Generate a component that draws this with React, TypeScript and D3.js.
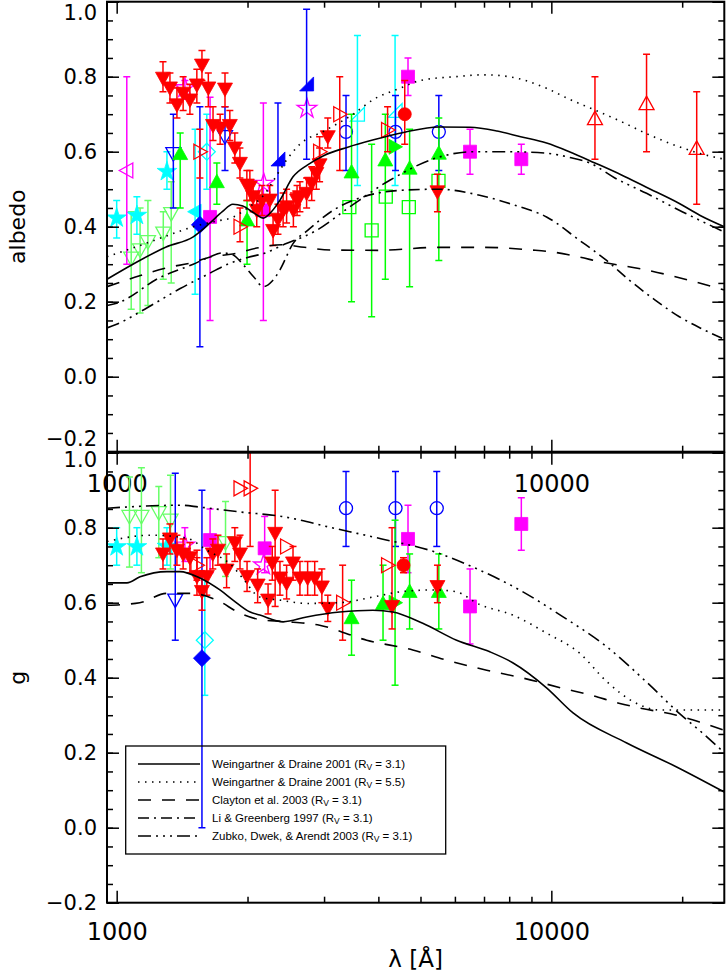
import React, { useRef, useEffect } from 'react';
import * as d3 from 'd3';

type Pt = [number, number, number?, number?]; // lambda [A], value, lower, upper

// ---- model curves, albedo panel ----
const albedoWD31: [number, number][] = [[950,0.26],[1090,0.30],[1300,0.346],[1500,0.373],[1640,0.41],[1750,0.44],[1850,0.46],[1950,0.455],[2080,0.435],[2175,0.423],[2270,0.44],[2375,0.471],[2545,0.533],[2750,0.565],[3000,0.59],[3400,0.612],[3880,0.631],[4600,0.652],[5500,0.666],[6500,0.665],[7500,0.655],[8500,0.64],[9750,0.623],[11000,0.60],[12600,0.57],[14500,0.538],[16500,0.506],[19700,0.462],[22000,0.43],[25000,0.40]];
const albedoWD55: [number, number][] = [[950,0.32],[1100,0.345],[1300,0.375],[1500,0.40],[1700,0.415],[1850,0.425],[2000,0.45],[2200,0.49],[2300,0.525],[2450,0.575],[2640,0.62],[3000,0.655],[3500,0.70],[3880,0.738],[4500,0.77],[5000,0.79],[6000,0.80],[7000,0.805],[8000,0.80],[9750,0.769],[11000,0.74],[12600,0.711],[14500,0.68],[16500,0.649],[19700,0.613],[22000,0.595],[25000,0.58]];
const albedoCCC03: [number, number][] = [[950,0.24],[1100,0.265],[1300,0.29],[1500,0.305],[1650,0.32],[1850,0.327],[2100,0.343],[2400,0.352],[2700,0.345],[3100,0.338],[4000,0.337],[5500,0.345],[7000,0.345],[9000,0.338],[10000,0.333],[11500,0.32],[13000,0.306],[16500,0.285],[20000,0.262],[25000,0.231]];
const albedoLG97: [number, number][] = [[950,0.19],[1000,0.196],[1260,0.265],[1500,0.30],[1640,0.32],[1750,0.33],[1850,0.325],[1950,0.30],[2070,0.265],[2175,0.24],[2280,0.255],[2375,0.285],[2545,0.355],[2750,0.39],[3150,0.444],[3700,0.48],[4500,0.497],[5500,0.50],[6840,0.484],[8200,0.458],[9750,0.426],[11600,0.364],[13400,0.31],[15100,0.258],[17300,0.205],[19700,0.16],[22000,0.13],[25000,0.10]];
const albedoZDA03: [number, number][] = [[950,0.13],[1000,0.14],[1200,0.19],[1400,0.235],[1600,0.27],[1800,0.30],[2000,0.318],[2200,0.33],[2400,0.35],[2880,0.39],[3430,0.452],[4250,0.524],[5530,0.586],[6600,0.60],[8000,0.60],[9750,0.596],[11000,0.585],[12260,0.57],[14000,0.53],[16560,0.489],[20000,0.44],[25000,0.386]];

// ---- model curves, g panel ----
const gWD31: [number, number][] = [[950,0.653],[1056,0.653],[1132,0.669],[1305,0.683],[1398,0.683],[1554,0.666],[1728,0.634],[1852,0.607],[2028,0.575],[2135,0.567],[2415,0.549],[2736,0.562],[3260,0.575],[3885,0.58],[4320,0.575],[5060,0.545],[6055,0.50],[7220,0.469],[8150,0.44],[9750,0.373],[11220,0.306],[14910,0.226],[19420,0.162],[25000,0.095]];
const gWD55: [number, number][] = [[950,0.763],[1193,0.78],[1450,0.772],[1612,0.74],[1852,0.696],[1950,0.665],[2135,0.615],[2370,0.607],[2736,0.598],[3260,0.60],[3885,0.615],[4560,0.63],[5380,0.634],[6000,0.63],[6840,0.595],[8150,0.567],[9750,0.519],[11600,0.466],[13400,0.39],[15500,0.335],[17700,0.314],[25000,0.314]];
const gCCC03: [number, number][] = [[950,0.593],[1130,0.60],[1305,0.625],[1480,0.625],[1700,0.607],[1922,0.572],[2135,0.555],[2415,0.55],[2930,0.54],[3760,0.50],[4800,0.474],[5740,0.447],[7100,0.42],[8610,0.399],[10600,0.372],[12300,0.354],[14300,0.332],[16000,0.319],[19400,0.30],[22300,0.279],[25000,0.26]];
const gZDA03: [number, number][] = [[950,0.852],[1130,0.857],[1400,0.86],[1550,0.855],[1920,0.842],[2400,0.83],[3125,0.80],[4075,0.77],[5310,0.738],[6840,0.687],[8450,0.634],[10620,0.563],[13400,0.483],[16500,0.39],[19700,0.305],[22300,0.252],[25000,0.20]];

// ---- observations, albedo ----
const aGreenTriDownOpen: Pt[] = [[1080,0.316,0.18,0.44],[1132,0.338,0.17,0.45],[1180,0.36,0.19,0.47],[1280,0.383,0.26,0.44],[1335,0.435,0.25,0.52]];
const aCyanStar: Pt[] = [[1000,0.423,0.37,0.47],[1113,0.43,0.38,0.48],[1305,0.547,0.50,0.60]];
const aCyanLeft: Pt[] = [[1515,0.44,0.22,0.66]];
const aCyanDiamondOpen: Pt[] = [[1612,0.60,0.50,0.70]];
const aCyanCornerOpen: Pt[] = [[3580,0.70,0.51,0.91],[4370,0.71,0.51,0.91]];
const aMagentaLeftOpen: Pt[] = [[1055,0.55,0.30,0.80]];
const aMagentaStarOpen: Pt[] = [[1435,0.77,0.74,0.79],[2180,0.515],[2740,0.715]];
const aMagentaSquare: Pt[] = [[1640,0.426,0.15,0.745],[2175,0.444,0.15,0.73],[4680,0.80,0.75,0.85],[6500,0.60,0.54,0.66],[8530,0.58,0.54,0.62]];
const aBlueTriDownOpen: Pt[] = [[1350,0.595,0.45,0.70],[1775,0.64,0.55,0.72]];
const aBlueDiamond: Pt[] = [[1554,0.405,0.08,0.72]];
const aBlueWedge: Pt[] = [[2350,0.578,0.43,0.73],[2735,0.778,0.58,0.98]];
const aBlueCircleOpen: Pt[] = [[3370,0.653,0.55,0.75],[4380,0.653,0.55,0.75],[5510,0.653,0.55,0.75]];
const aGreenSquareOpen: Pt[] = [[3430,0.452],[3860,0.39,0.16,0.62],[4160,0.48],[4700,0.452],[5500,0.522]];
const aGreenTriUp: Pt[] = [[1400,0.595,0.45,0.65],[1700,0.52,0.46,0.57],[1995,0.418,0.30,0.47],[3470,0.546,0.20,0.70],[4150,0.578,0.26,0.70],[4720,0.556,0.24,0.66],[5510,0.596,0.31,0.69]];
const aGreenTriRight: Pt[] = [[4370,0.613]];
const aRedTriRightOpen: Pt[] = [[1554,0.60,0.53,0.66],[1922,0.40,0.36,0.45],[2930,0.60,0.56,0.64],[3260,0.70,0.55,0.80],[4200,0.658,0.60,0.72]];
const aRedTriDown: Pt[] = [
  [1278,0.796,0.76,0.84],[1326,0.77,0.73,0.81],[1376,0.725,0.69,0.77],[1422,0.756,0.71,0.80],
  [1474,0.738,0.70,0.78],[1529,0.778,0.73,0.82],[1571,0.831,0.79,0.87],[1625,0.77,0.72,0.81],
  [1666,0.67,0.63,0.72],[1730,0.663,0.62,0.70],[1775,0.767,0.72,0.81],[1821,0.67,0.63,0.71],
  [1870,0.61,0.57,0.65],[1921,0.569,0.53,0.61],[1993,0.511,0.47,0.55],[2025,0.506,0.47,0.55],
  [2060,0.48,0.44,0.52],[2100,0.444,0.40,0.49],[2160,0.47,0.43,0.51],[2250,0.471,0.43,0.51],
  [2290,0.39,0.35,0.43],[2350,0.42,0.38,0.46],[2415,0.444,0.40,0.49],[2460,0.453,0.41,0.50],
  [2550,0.444,0.40,0.49],[2600,0.471,0.43,0.51],[2640,0.48,0.44,0.52],[2735,0.489,0.45,0.53],
  [2810,0.516,0.47,0.56],[2880,0.542,0.50,0.58],[2930,0.565,0.52,0.61],[3060,0.64,0.61,0.69],
  [5470,0.493,0.44,0.54]
];
const aRedCircle: Pt[] = [[4600,0.70,0.62,0.79]];
const aRedTriUpOpen: Pt[] = [[12600,0.688,0.58,0.80],[16560,0.728,0.60,0.86],[21600,0.609,0.46,0.76]];

// ---- observations, g ----
const gGreenTriDownOpen: Pt[] = [[1070,0.83,0.695,0.935],[1140,0.83,0.68,0.96],[1250,0.84,0.72,0.91],[1330,0.82,0.69,0.94],[1780,0.76,0.67,0.87]];
const gCyanStar: Pt[] = [[1000,0.749,0.70,0.80],[1113,0.749,0.70,0.80],[1305,0.75,0.70,0.80]];
const gCyanDiamondOpen: Pt[] = [[1595,0.50,0.353,0.66]];
const gMagentaStarOpen: Pt[] = [[1435,0.753,0.71,0.80],[2175,0.70]];
const gMagentaSquare: Pt[] = [[1640,0.767,0.68,0.85],[2190,0.745,0.68,0.83],[4680,0.77,0.68,0.86],[6500,0.59,0.49,0.69],[8530,0.81,0.74,0.88]];
const gBlueTriDownOpen: Pt[] = [[1364,0.607,0.50,0.945]];
const gBlueDiamond: Pt[] = [[1571,0.452,0.0,0.90]];
const gBlueCircleOpen: Pt[] = [[3370,0.852,0.75,0.95],[4380,0.852,0.75,0.95],[5450,0.852,0.75,0.95]];
const gGreenTriUp: Pt[] = [[3470,0.56,0.46,0.66],[4100,0.598,0.50,0.70],[4720,0.63,0.53,0.73],[5510,0.63,0.53,0.73]];
const gGreenTriRight: Pt[] = [[4370,0.60,0.38,0.82]];
const gRedTriRightOpen: Pt[] = [[1530,0.70,0.66,0.74],[1922,0.905],[2028,0.905,0.75,1.1],[2460,0.75],[3310,0.60,0.50,0.70],[4200,0.70]];
const gRedTriDown: Pt[] = [
  [1278,0.73,0.69,0.77],[1326,0.77,0.73,0.81],[1376,0.74,0.70,0.78],[1422,0.73,0.69,0.77],
  [1474,0.72,0.68,0.76],[1530,0.67,0.62,0.72],[1571,0.63,0.58,0.67],[1612,0.67,0.62,0.72],
  [1664,0.73,0.69,0.77],[1710,0.74,0.70,0.78],[1790,0.687,0.64,0.73],[1870,0.76,0.71,0.80],
  [1922,0.73,0.69,0.78],[1995,0.67,0.63,0.71],[2110,0.647,0.60,0.69],[2230,0.607,0.57,0.65],
  [2280,0.706,0.66,0.75],[2315,0.785,0.59,0.90],[2375,0.666,0.62,0.71],[2460,0.652,0.61,0.70],
  [2545,0.706,0.66,0.75],[2640,0.666,0.62,0.71],[2750,0.666,0.62,0.71],[2855,0.666,0.62,0.71],
  [2965,0.642,0.60,0.69],[3060,0.585,0.55,0.62],[4300,0.59,0.53,0.80],[5470,0.643,0.60,0.70]
];
const gRedCircle: Pt[] = [[4570,0.70,0.68,0.72]];

// ---- axis + legend text ----
const yMajor = [-0.2, 0, 0.2, 0.4, 0.6, 0.8, 1.0];
const yMinor = d3.range(-0.2, 1.0001, 0.05);
const xMajor = [1000, 10000];
const xMinor = [2000, 3000, 4000, 5000, 6000, 7000, 8000, 9000, 20000];
const legendNames = ['Weingartner & Draine 2001', 'Weingartner & Draine 2001', 'Clayton et al. 2003', 'Li & Greenberg 1997', 'Zubko, Dwek, & Arendt 2003'];
const legendRv = ['3.1', '5.5', '3.1', '3.1', '3.1'];

const RED = '#ff0000', GREEN = '#00ff00', LGREEN = '#66ff66', BLUE = '#0000ff', CYAN = '#00ffff', MAGENTA = '#ff00ff';
const DASH: Record<string, string | null> = {
  solid: null,
  dotted: '1.5,5.5',
  dashed: '13,11',
  dashdot: '11,5,2,5',
  dash3dot: '13,5,2,5,2,5,2,5',
};
const legendStyles = ['solid', 'dotted', 'dashed', 'dashdot', 'dash3dot'];

const topSeries = [
  { data: aGreenTriDownOpen, marker: 'tridown', color: LGREEN, filled: false },
  { data: aCyanStar, marker: 'star', color: CYAN, filled: true },
  { data: aCyanLeft, marker: 'trileft', color: CYAN, filled: true },
  { data: aCyanDiamondOpen, marker: 'diamond', color: CYAN, filled: false },
  { data: aCyanCornerOpen, marker: 'corner', color: CYAN, filled: false },
  { data: aMagentaLeftOpen, marker: 'trileft', color: MAGENTA, filled: false },
  { data: aMagentaStarOpen, marker: 'star', color: MAGENTA, filled: false },
  { data: aMagentaSquare, marker: 'square', color: MAGENTA, filled: true },
  { data: aBlueTriDownOpen, marker: 'tridown', color: BLUE, filled: false },
  { data: aBlueDiamond, marker: 'diamond', color: BLUE, filled: true },
  { data: aBlueWedge, marker: 'wedge', color: BLUE, filled: true },
  { data: aBlueCircleOpen, marker: 'circle', color: BLUE, filled: false },
  { data: aGreenSquareOpen, marker: 'square', color: GREEN, filled: false },
  { data: aGreenTriUp, marker: 'triup', color: GREEN, filled: true },
  { data: aGreenTriRight, marker: 'triright', color: GREEN, filled: true },
  { data: aRedTriRightOpen, marker: 'triright', color: RED, filled: false },
  { data: aRedTriDown, marker: 'tridown', color: RED, filled: true },
  { data: aRedCircle, marker: 'circle', color: RED, filled: true },
  { data: aRedTriUpOpen, marker: 'triup', color: RED, filled: false },
];

const botSeries = [
  { data: gGreenTriDownOpen, marker: 'tridown', color: LGREEN, filled: false },
  { data: gCyanStar, marker: 'star', color: CYAN, filled: true },
  { data: gCyanDiamondOpen, marker: 'diamond', color: CYAN, filled: false },
  { data: gMagentaStarOpen, marker: 'star', color: MAGENTA, filled: false },
  { data: gMagentaSquare, marker: 'square', color: MAGENTA, filled: true },
  { data: gBlueTriDownOpen, marker: 'tridown', color: BLUE, filled: false },
  { data: gBlueDiamond, marker: 'diamond', color: BLUE, filled: true },
  { data: gBlueCircleOpen, marker: 'circle', color: BLUE, filled: false },
  { data: gGreenTriUp, marker: 'triup', color: GREEN, filled: true },
  { data: gGreenTriRight, marker: 'triright', color: GREEN, filled: true },
  { data: gRedTriRightOpen, marker: 'triright', color: RED, filled: false },
  { data: gRedTriDown, marker: 'tridown', color: RED, filled: true },
  { data: gRedCircle, marker: 'circle', color: RED, filled: true },
];

const topCurves = [
  { data: albedoWD31, style: 'solid' },
  { data: albedoWD55, style: 'dotted' },
  { data: albedoCCC03, style: 'dashed' },
  { data: albedoLG97, style: 'dashdot' },
  { data: albedoZDA03, style: 'dash3dot' },
];
const botCurves = [
  { data: gWD31, style: 'solid' },
  { data: gWD55, style: 'dotted' },
  { data: gCCC03, style: 'dashed' },
  { data: gZDA03, style: 'dash3dot' },
];

const markerPath = (m: string): string => {
  switch (m) {
    case 'tridown': return 'M-7.5,-6L7.5,-6L0,7.5Z';
    case 'triup': return 'M-7.5,6L7.5,6L0,-7.5Z';
    case 'triright': return 'M-6,-7.5L7.5,0L-6,7.5Z';
    case 'trileft': return 'M6,-7.5L-7.5,0L6,7.5Z';
    case 'square': return 'M-6.5,-6.5H6.5V6.5H-6.5Z';
    case 'diamond': return 'M0,-8.5L8.5,0L0,8.5L-8.5,0Z';
    case 'wedge': return 'M7,-8L7,6L-7,6Z';
    case 'corner': return 'M-7,7L7,-7L7,7Z';
    case 'circle': return d3.symbol(d3.symbolCircle, Math.PI * 6.5 * 6.5)() as string;
    case 'star': return d3.symbol(d3.symbolStar, 120)() as string;
  }
  return '';
};

const W = 727, H = 977;
const X0 = 107, X1 = 724.3;
const FONT = "'DejaVu Sans', 'Liberation Sans', sans-serif";

const App = () => {
  const svgRef = useRef<SVGSVGElement>(null);

  useEffect(() => {
    const svg = d3.select(svgRef.current);
    svg.selectAll('*').remove();

    const xScale = d3.scaleLog().domain([950, 25000]).range([X0, X1]);

    const panels = [
      { top: 1.7, bottom: 451.7, title: 'albedo', series: topSeries, curves: topCurves },
      { top: 452.7, bottom: 902.7, title: 'g', series: botSeries, curves: botCurves },
    ];

    panels.forEach((p, pi) => {
      const yScale = d3.scaleLinear().domain([-0.2, 1.0]).range([p.bottom, p.top]);

      svg.append('clipPath').attr('id', `clip${pi}`)
        .append('rect').attr('x', X0).attr('y', p.top)
        .attr('width', X1 - X0).attr('height', p.bottom - p.top);

      const plot = svg.append('g').attr('clip-path', `url(#clip${pi})`);

      // data points with error bars
      p.series.forEach((s) => {
        const g = plot.append('g');
        s.data.filter((d) => d[2] !== undefined).forEach((d) => {
          const x = xScale(d[0]);
          const y0 = yScale(d[2] as number);
          const y1 = yScale(d[3] as number);
          g.append('line').attr('x1', x).attr('x2', x).attr('y1', y0).attr('y2', y1)
            .attr('stroke', s.color).attr('stroke-width', 1.5);
          [y0, y1].forEach((yy) => {
            g.append('line').attr('x1', x - 3.5).attr('x2', x + 3.5).attr('y1', yy).attr('y2', yy)
              .attr('stroke', s.color).attr('stroke-width', 1.5);
          });
        });
        g.selectAll('path.mk')
          .data(s.data)
          .join('path')
          .attr('class', 'mk')
          .attr('d', markerPath(s.marker))
          .attr('transform', (d) => `translate(${xScale(d[0])},${yScale(d[1])})`)
          .attr('fill', s.filled ? s.color : 'none')
          .attr('stroke', s.color)
          .attr('stroke-width', s.filled ? 0.8 : 1.3);
      });

      // model curves
      const line = d3.line<[number, number]>()
        .x((d) => xScale(d[0]))
        .y((d) => yScale(d[1]))
        .curve(d3.curveMonotoneX);
      p.curves.forEach((c) => {
        plot.append('path')
          .attr('d', line(c.data))
          .attr('fill', 'none')
          .attr('stroke', '#000')
          .attr('stroke-width', 1.6)
          .attr('stroke-dasharray', DASH[c.style]);
      });

      // axes
      const styleAxis = (g: any) => {
        g.select('.domain').remove();
        g.selectAll('line').attr('stroke', '#000').attr('stroke-width', 1.5);
        g.selectAll('text').attr('font-family', FONT).attr('font-size', 21).attr('fill', '#000');
      };
      const yLabels = svg.append('g').attr('transform', `translate(${X0},0)`)
        .call(d3.axisLeft(yScale).tickValues(yMajor).tickSize(-12).tickPadding(10).tickFormat(d3.format('.1f')))
        .call(styleAxis)
        .selectAll('text');
      // end labels nudged apart where the two panels meet
      yLabels.filter((d: any) => d === 1).attr('dy', pi === 0 ? '0.85em' : '0.68em');
      if (pi === 0) yLabels.filter((d: any) => d === -0.2).attr('dy', '-0.3em');
      svg.append('g').attr('transform', `translate(${X0},0)`)
        .call(d3.axisLeft(yScale).tickValues(yMinor).tickSize(-6).tickFormat(() => ''))
        .call(styleAxis);
      svg.append('g').attr('transform', `translate(${X1},0)`)
        .call(d3.axisRight(yScale).tickValues(yMajor).tickSize(-12).tickFormat(() => ''))
        .call(styleAxis);
      svg.append('g').attr('transform', `translate(${X1},0)`)
        .call(d3.axisRight(yScale).tickValues(yMinor).tickSize(-6).tickFormat(() => ''))
        .call(styleAxis);

      svg.append('g').attr('transform', `translate(0,${p.bottom})`)
        .call(d3.axisBottom(xScale).tickValues(xMajor).tickSize(-12).tickPadding(pi === 0 ? 23 : 20).tickFormat((d: any) => String(d)))
        .call(styleAxis)
        .selectAll('text').attr('font-size', 24);
      svg.append('g').attr('transform', `translate(0,${p.bottom})`)
        .call(d3.axisBottom(xScale).tickValues(xMinor).tickSize(-6).tickFormat(() => ''))
        .call(styleAxis);
      svg.append('g').attr('transform', `translate(0,${p.top})`)
        .call(d3.axisTop(xScale).tickValues(xMajor).tickSize(-12).tickFormat(() => ''))
        .call(styleAxis);
      svg.append('g').attr('transform', `translate(0,${p.top})`)
        .call(d3.axisTop(xScale).tickValues(xMinor).tickSize(-6).tickFormat(() => ''))
        .call(styleAxis);

      svg.append('rect')
        .attr('x', X0).attr('y', p.top)
        .attr('width', X1 - X0).attr('height', p.bottom - p.top)
        .attr('fill', 'none').attr('stroke', '#000').attr('stroke-width', 2);

      svg.append('text')
        .attr('transform', `translate(25,${(p.top + p.bottom) / 2}) rotate(-90)`)
        .attr('text-anchor', 'middle')
        .attr('font-family', FONT).attr('font-size', 22)
        .text(p.title);
    });

    // x title
    svg.append('text')
      .attr('x', (X0 + X1) / 2).attr('y', 967)
      .attr('text-anchor', 'middle')
      .attr('font-family', FONT).attr('font-size', 23)
      .text('λ [Å]');

    // legend
    const leg = svg.append('g');
    leg.append('rect')
      .attr('x', 125.7).attr('y', 746).attr('width', 320).attr('height', 108)
      .attr('fill', 'none').attr('stroke', '#000').attr('stroke-width', 1.3);
    legendStyles.forEach((st, i) => {
      const yy = 764 + i * 18;
      leg.append('line')
        .attr('x1', 138).attr('x2', 200).attr('y1', yy).attr('y2', yy)
        .attr('stroke', '#000').attr('stroke-width', 1.4)
        .attr('stroke-dasharray', DASH[st]);
      const t = leg.append('text')
        .attr('x', 212).attr('y', yy + 4)
        .attr('font-family', "'Liberation Sans', Arial, sans-serif")
        .attr('font-size', 11.5);
      t.append('tspan').text(`${legendNames[i]} (R`);
      t.append('tspan').attr('font-size', 8.5).attr('dy', 2).text('V');
      t.append('tspan').attr('dy', -2).text(` = ${legendRv[i]})`);
    });
  }, []);

  return (
    <div style={{ position: 'absolute', left: 0, top: 0 }}>
      <svg ref={svgRef} width={W} height={H} style={{ display: 'block', background: '#fff' }} />
    </div>
  );
};

export default App;
